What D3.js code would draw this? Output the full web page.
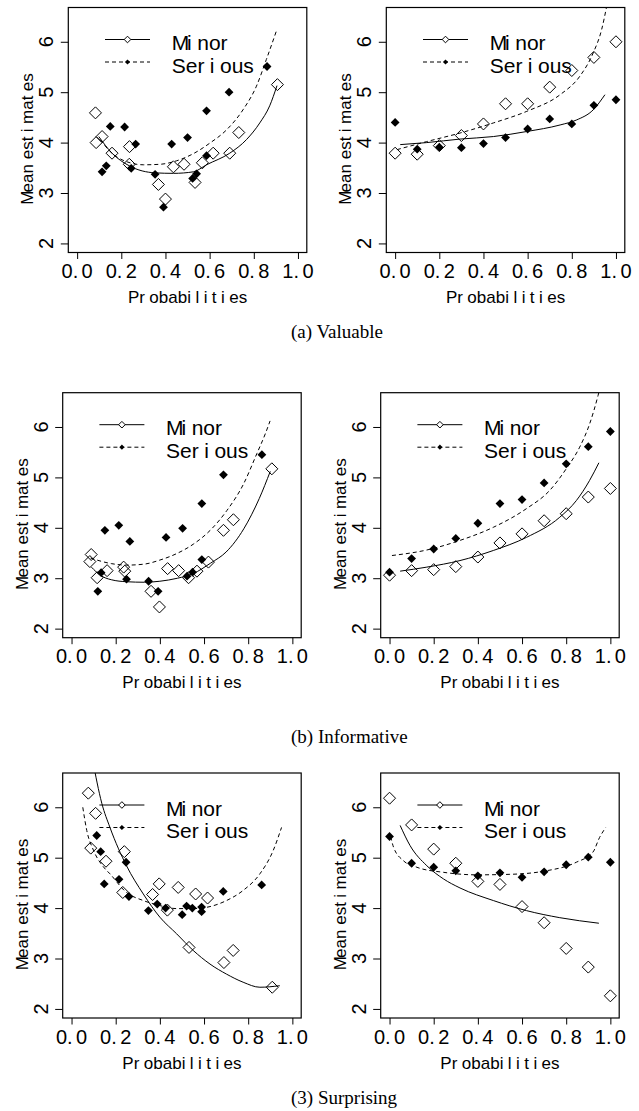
<!DOCTYPE html>
<html>
<head>
<meta charset="utf-8">
<script src="https://cdnjs.cloudflare.com/ajax/libs/d3/7.8.5/d3.min.js"></script>
<style>
  body { margin: 0; background: #fff; }
  svg { display: block; }
</style>
</head>
<body>
<script>
// ---- data ----
var probs = [0, 0.1, 0.2, 0.3, 0.4, 0.5, 0.6, 0.7, 0.8, 0.9, 1.0];
var xTicks = [0, 0.2, 0.4, 0.6, 0.8, 1.0];
var yTicks = [2, 3, 4, 5, 6];
var legendLabels = ["Minor", "Serious"];
var captions = ["(a) Valuable", "(b) Informative", "(3) Surprising"];

// (a) Valuable, left panel
var valLeftMinorX = [0.083, 0.113, 0.086, 0.158, 0.237, 0.236, 0.368, 0.400, 0.436, 0.484, 0.534, 0.567, 0.616, 0.691, 0.732, 0.907];
var valLeftMinorY = [4.59, 4.12, 4.00, 3.79, 3.92, 3.57, 3.17, 2.88, 3.52, 3.57, 3.21, 3.60, 3.79, 3.79, 4.20, 5.15];
var valLeftSeriousX = [0.113, 0.132, 0.150, 0.215, 0.265, 0.245, 0.353, 0.391, 0.428, 0.500, 0.523, 0.541, 0.586, 0.586, 0.688, 0.860];
var valLeftSeriousY = [3.42, 3.54, 4.32, 4.31, 3.97, 3.49, 3.37, 2.72, 3.97, 4.10, 3.29, 3.38, 4.63, 3.74, 5.00, 5.51];
var valLeftMinorFitX = [0.098, 0.158, 0.236, 0.353, 0.436, 0.526, 0.586, 0.691, 0.767, 0.827, 0.872, 0.905];
var valLeftMinorFitY = [4.12, 3.79, 3.54, 3.40, 3.39, 3.42, 3.56, 3.79, 4.06, 4.39, 4.73, 5.13];
var valLeftSeriousFitX = [0.105, 0.150, 0.225, 0.300, 0.376, 0.451, 0.526, 0.601, 0.676, 0.751, 0.812, 0.857, 0.902];
var valLeftSeriousFitY = [4.06, 3.82, 3.62, 3.56, 3.57, 3.64, 3.78, 3.99, 4.25, 4.65, 5.12, 5.65, 6.21];

// (a) Valuable, right panel
var valRightMinorY = [3.79, 3.77, 3.94, 4.14, 4.37, 4.77, 4.77, 5.10, 5.43, 5.69, 6.00];
var valRightSeriousY = [4.40, 3.87, 3.91, 3.90, 3.98, 4.10, 4.27, 4.47, 4.37, 4.74, 4.85];
var valRightMinorFitX = [0.023, 0.143, 0.294, 0.445, 0.596, 0.747, 0.822, 0.897, 0.950];
var valRightMinorFitY = [3.96, 4.00, 4.07, 4.12, 4.22, 4.35, 4.45, 4.65, 4.95];
var valRightSeriousFitX = [0.008, 0.143, 0.294, 0.445, 0.596, 0.747, 0.837, 0.897, 0.935, 0.960];
var valRightSeriousFitY = [3.86, 4.02, 4.19, 4.39, 4.62, 4.95, 5.32, 5.78, 6.24, 6.75];

// (b) Informative, left panel
var infLeftMinorX = [0.089, 0.083, 0.116, 0.161, 0.236, 0.241, 0.360, 0.398, 0.435, 0.485, 0.530, 0.568, 0.620, 0.688, 0.733, 0.907];
var infLeftMinorY = [3.47, 3.33, 3.01, 3.15, 3.22, 3.14, 2.74, 2.43, 3.19, 3.15, 3.01, 3.14, 3.32, 3.95, 4.16, 5.17];
var infLeftSeriousX = [0.119, 0.134, 0.151, 0.214, 0.264, 0.249, 0.349, 0.392, 0.428, 0.503, 0.523, 0.548, 0.590, 0.590, 0.688, 0.862];
var infLeftSeriousY = [2.74, 3.11, 3.95, 4.05, 3.73, 2.98, 2.94, 2.74, 3.81, 3.99, 3.04, 3.12, 4.48, 3.37, 5.05, 5.45];
var infLeftMinorFitX = [0.090, 0.130, 0.180, 0.250, 0.330, 0.400, 0.480, 0.550, 0.630, 0.700, 0.780, 0.850, 0.900];
var infLeftMinorFitY = [3.22, 3.06, 2.97, 2.93, 2.92, 2.94, 3.00, 3.09, 3.30, 3.52, 3.98, 4.58, 5.12];
var infLeftSeriousFitX = [0.086, 0.180, 0.250, 0.330, 0.400, 0.477, 0.553, 0.628, 0.703, 0.779, 0.839, 0.877, 0.899];
var infLeftSeriousFitY = [3.40, 3.29, 3.26, 3.28, 3.36, 3.49, 3.68, 3.95, 4.34, 4.87, 5.47, 5.86, 6.12];

// (b) Informative, right panel
var infRightMinorY = [3.06, 3.15, 3.17, 3.23, 3.42, 3.70, 3.88, 4.14, 4.28, 4.61, 4.78];
var infRightSeriousY = [3.12, 3.39, 3.58, 3.79, 4.09, 4.48, 4.56, 4.89, 5.27, 5.61, 5.91];
var infRightMinorFitX = [0.048, 0.169, 0.319, 0.470, 0.620, 0.771, 0.846, 0.906, 0.948];
var infRightMinorFitY = [3.14, 3.22, 3.35, 3.55, 3.81, 4.21, 4.54, 4.94, 5.29];
var infRightSeriousFitX = [0.011, 0.169, 0.319, 0.470, 0.620, 0.725, 0.800, 0.861, 0.906, 0.944, 0.960];
var infRightSeriousFitY = [3.45, 3.56, 3.75, 4.01, 4.38, 4.74, 5.17, 5.60, 6.06, 6.62, 6.90];

// (3) Surprising, left panel
var surLeftMinorX = [0.076, 0.109, 0.087, 0.239, 0.156, 0.232, 0.367, 0.397, 0.434, 0.483, 0.562, 0.616, 0.532, 0.690, 0.732, 0.909];
var surLeftMinorY = [6.28, 5.88, 5.19, 5.12, 4.93, 4.31, 4.27, 4.48, 3.96, 4.41, 4.28, 4.20, 3.22, 2.92, 3.16, 2.43];
var surLeftSeriousX = [0.114, 0.132, 0.148, 0.215, 0.247, 0.260, 0.348, 0.388, 0.426, 0.501, 0.521, 0.547, 0.589, 0.589, 0.687, 0.861];
var surLeftSeriousY = [5.44, 5.12, 4.48, 4.57, 4.91, 4.23, 3.95, 4.08, 4.00, 3.87, 4.04, 4.00, 4.02, 3.93, 4.33, 4.46];
var surLeftMinorFitX = [0.095, 0.137, 0.174, 0.249, 0.325, 0.400, 0.476, 0.551, 0.627, 0.702, 0.777, 0.853, 0.943];
var surLeftMinorFitY = [6.95, 6.08, 5.60, 4.84, 4.28, 3.82, 3.49, 3.16, 2.89, 2.69, 2.53, 2.43, 2.46];
var surLeftSeriousFitX = [0.051, 0.069, 0.099, 0.144, 0.174, 0.249, 0.325, 0.400, 0.476, 0.551, 0.627, 0.702, 0.777, 0.853, 0.913, 0.951];
var surLeftSeriousFitY = [6.00, 5.54, 5.15, 4.82, 4.68, 4.31, 4.15, 4.05, 3.99, 3.99, 4.03, 4.15, 4.35, 4.68, 5.14, 5.60];

// (3) Surprising, right panel
var surRightMinorY = [6.18, 5.65, 5.17, 4.89, 4.53, 4.47, 4.03, 3.71, 3.20, 2.83, 2.26];
var surRightSeriousY = [5.42, 4.89, 4.81, 4.74, 4.64, 4.70, 4.61, 4.72, 4.86, 5.01, 4.91];
var surRightMinorFitX = [0.048, 0.093, 0.169, 0.244, 0.319, 0.470, 0.620, 0.771, 0.948];
var surRightMinorFitY = [5.64, 5.24, 4.84, 4.58, 4.40, 4.15, 3.95, 3.81, 3.70];
var surRightSeriousFitX = [0.005, 0.018, 0.063, 0.124, 0.244, 0.394, 0.545, 0.696, 0.846, 0.921, 0.951, 0.979];
var surRightSeriousFitY = [5.42, 5.21, 4.94, 4.81, 4.71, 4.66, 4.67, 4.73, 4.91, 5.11, 5.40, 5.60];

// ---- layout ----
var width = 639, height = 1111;
var boxW = 238.5, boxH = 245;
var rowTops = [7.5, 392.7, 773];
var rowLefts = [[68.3, 386.3], [62.7, 380.7], [62.7, 380.7]];
var captionY = [338, 743, 1104];

function zip(xs, ys) {
    return xs.map(function (x, i) { return [x, ys[i]]; });
}

var panels = [
    [
        { minor: zip(valLeftMinorX, valLeftMinorY), serious: zip(valLeftSeriousX, valLeftSeriousY),
          minorFit: zip(valLeftMinorFitX, valLeftMinorFitY), seriousFit: zip(valLeftSeriousFitX, valLeftSeriousFitY) },
        { minor: zip(probs, valRightMinorY), serious: zip(probs, valRightSeriousY),
          minorFit: zip(valRightMinorFitX, valRightMinorFitY), seriousFit: zip(valRightSeriousFitX, valRightSeriousFitY) }
    ],
    [
        { minor: zip(infLeftMinorX, infLeftMinorY), serious: zip(infLeftSeriousX, infLeftSeriousY),
          minorFit: zip(infLeftMinorFitX, infLeftMinorFitY), seriousFit: zip(infLeftSeriousFitX, infLeftSeriousFitY) },
        { minor: zip(probs, infRightMinorY), serious: zip(probs, infRightSeriousY),
          minorFit: zip(infRightMinorFitX, infRightMinorFitY), seriousFit: zip(infRightSeriousFitX, infRightSeriousFitY) }
    ],
    [
        { minor: zip(surLeftMinorX, surLeftMinorY), serious: zip(surLeftSeriousX, surLeftSeriousY),
          minorFit: zip(surLeftMinorFitX, surLeftMinorFitY), seriousFit: zip(surLeftSeriousFitX, surLeftSeriousFitY) },
        { minor: zip(probs, surRightMinorY), serious: zip(probs, surRightSeriousY),
          minorFit: zip(surRightMinorFitX, surRightMinorFitY), seriousFit: zip(surRightSeriousFitX, surRightSeriousFitY) }
    ]
];

var svg = d3.select("body").append("svg")
    .attr("width", width)
    .attr("height", height);

var sansFont = "'Liberation Sans', Arial, Helvetica, sans-serif";
var serifFont = "'Liberation Serif', 'Times New Roman', Times, serif";

// the original R output puts odd gaps after narrow glyphs ("Pr obabi l i t i es")
function spacedText(sel, str, size) {
    var narrow = /[iltr.]/;
    str.split("").forEach(function (ch, i) {
        var t = sel.append("tspan").text(ch);
        var prev = str[i - 1];
        if (prev && narrow.test(prev)) t.attr("dx", 0.26 * size);
        else if (prev === "M") t.attr("dx", -0.1 * size);
    });
}

function diamond(r) {
    return "M0," + (-r) + "L" + r + ",0L0," + r + "L" + (-r) + ",0Z";
}

function drawPanel(p, left, top, idx) {
    var x = d3.scaleLinear().domain([-0.04, 1.04]).range([left, left + boxW]);
    var y = d3.scaleLinear().domain([1.82, 6.68]).range([top + boxH, top]);
    var g = svg.append("g");

    var clipId = "clip" + idx;
    svg.append("clipPath").attr("id", clipId)
        .append("rect")
        .attr("x", left).attr("y", top)
        .attr("width", boxW).attr("height", boxH);

    // axes
    var xAxis = d3.axisBottom(x).tickValues(xTicks).tickSize(6.5).tickFormat("");
    var yAxis = d3.axisLeft(y).tickValues(yTicks).tickSize(7.5).tickFormat("");
    g.append("g").attr("transform", "translate(0," + (top + boxH) + ")").call(xAxis)
        .call(function (a) { a.select(".domain").remove(); })
        .selectAll("line").attr("stroke", "#000");
    g.append("g").attr("transform", "translate(" + left + ",0)").call(yAxis)
        .call(function (a) { a.select(".domain").remove(); })
        .selectAll("line").attr("stroke", "#000");

    // tick labels
    xTicks.forEach(function (v) {
        var t = g.append("text")
            .attr("x", x(v)).attr("y", top + boxH + 25.5)
            .attr("text-anchor", "middle")
            .attr("font-family", sansFont).attr("font-size", 20);
        spacedText(t, d3.format(".1f")(v), 13);
    });
    yTicks.forEach(function (v) {
        g.append("text")
            .attr("transform", "translate(" + (left - 15) + "," + y(v) + ") rotate(-90)")
            .attr("text-anchor", "middle")
            .attr("font-family", sansFont).attr("font-size", 20)
            .text(v);
    });

    // axis titles
    var xt = g.append("text")
        .attr("x", left + boxW / 2).attr("y", top + boxH + 50.5)
        .attr("text-anchor", "middle")
        .attr("font-family", sansFont).attr("font-size", 17);
    spacedText(xt, "Probabilities", 17);
    var yt = g.append("text")
        .attr("transform", "translate(" + (left - 35) + "," + (top + boxH / 2 + 9) + ") rotate(-90)")
        .attr("text-anchor", "middle")
        .attr("font-family", sansFont).attr("font-size", 17);
    spacedText(yt, "Mean estimates", 17);

    // fitted curves
    var line = d3.line()
        .x(function (d) { return x(d[0]); })
        .y(function (d) { return y(d[1]); })
        .curve(d3.curveMonotoneX);
    var curves = g.append("g").attr("clip-path", "url(#" + clipId + ")");
    curves.append("path").attr("d", line(p.minorFit))
        .attr("fill", "none").attr("stroke", "#000").attr("stroke-width", 1);
    curves.append("path").attr("d", line(p.seriousFit))
        .attr("fill", "none").attr("stroke", "#000").attr("stroke-width", 1)
        .attr("stroke-dasharray", "4,3");

    // points
    g.selectAll(".minor").data(p.minor).enter().append("path")
        .attr("class", "minor")
        .attr("transform", function (d) { return "translate(" + x(d[0]) + "," + y(d[1]) + ")"; })
        .attr("d", diamond(6))
        .attr("fill", "none").attr("stroke", "#000").attr("stroke-width", 1);
    g.selectAll(".serious").data(p.serious).enter().append("path")
        .attr("class", "serious")
        .attr("transform", function (d) { return "translate(" + x(d[0]) + "," + y(d[1]) + ")"; })
        .attr("d", diamond(4.4))
        .attr("fill", "#000");

    // box
    g.append("rect")
        .attr("x", left).attr("y", top)
        .attr("width", boxW).attr("height", boxH)
        .attr("fill", "none").attr("stroke", "#000").attr("stroke-width", 1.2);

    // legend
    legendLabels.forEach(function (lab, i) {
        var ly = top + 32 + i * 22.5;
        var lg = g.append("g");
        lg.append("line")
            .attr("x1", left + 36.7).attr("x2", left + 81.7)
            .attr("y1", ly).attr("y2", ly)
            .attr("stroke", "#000")
            .attr("stroke-dasharray", i === 0 ? null : "4,3");
        lg.append("path")
            .attr("transform", "translate(" + (left + 59.2) + "," + ly + ")")
            .attr("d", diamond(i === 0 ? 3.3 : 2.6))
            .attr("fill", i === 0 ? "#fff" : "#000")
            .attr("stroke", "#000").attr("stroke-width", i === 0 ? 1 : 0);
        var t = lg.append("text")
            .attr("x", left + 103.4).attr("y", ly + 10.5)
            .attr("font-family", sansFont).attr("font-size", 21);
        spacedText(t, lab, 21);
    });
}

panels.forEach(function (row, r) {
    row.forEach(function (p, c) {
        drawPanel(p, rowLefts[r][c], rowTops[r], r * 2 + c);
    });
    svg.append("text")
        .attr("x", 291).attr("y", captionY[r])
        .attr("font-family", serifFont).attr("font-size", 19)
        .text(captions[r]);
});
</script>
</body>
</html>
